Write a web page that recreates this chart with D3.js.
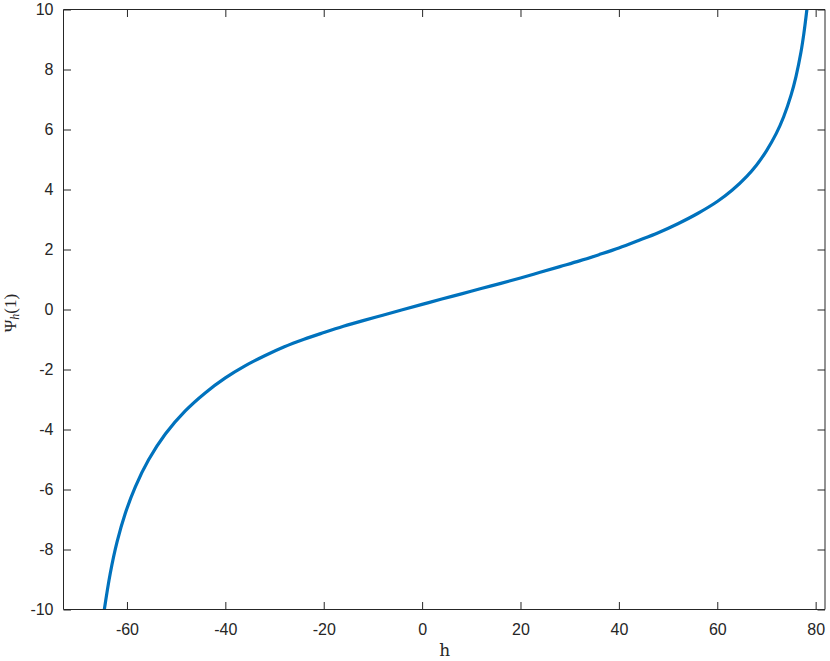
<!DOCTYPE html>
<html>
<head>
<meta charset="utf-8">
<script src="https://cdn.jsdelivr.net/npm/d3@7"></script>
<style>
  html, body { margin: 0; padding: 0; background: #fff; }
  svg { display: block; }
</style>
</head>
<body>
<svg id="chart" width="830" height="661"></svg>
<script>
// Data
const hValues = [-64.6, -63.4, -62.0, -60.35, -58.3, -55.6, -52.2, -48.15, -44.1, -40, -36, -32, -28, -24, -20, -16, -12, -8, -4, 0, 4, 8, 12, 16, 20, 24, 28, 32, 36, 40, 44, 48, 52, 56, 60, 63, 66, 68, 70, 72, 73.5, 75, 76, 77, 77.6, 78.22];
const psiValues = [-10.0, -8.80, -7.74, -6.80, -5.91, -5.01, -4.15, -3.38, -2.78, -2.28, -1.88, -1.54, -1.24, -0.99, -0.77, -0.56, -0.37, -0.19, -0.01, 0.17, 0.35, 0.52, 0.70, 0.87, 1.05, 1.24, 1.43, 1.62, 1.83, 2.05, 2.30, 2.56, 2.86, 3.20, 3.60, 3.975, 4.44, 4.82, 5.29, 5.87, 6.425, 7.145, 7.765, 8.565, 9.195, 10.0];
const xTicks = [-60, -40, -20, 0, 20, 40, 60, 80];
const yTicks = [-10, -8, -6, -4, -2, 0, 2, 4, 6, 8, 10];
const xDomain = [-72.9, 81.9];
const yDomain = [-10, 10];

const svg = d3.select("#chart");
const L = 63.5, R = 825, T = 9.5, B = 609.5;

const x = d3.scaleLinear().domain(xDomain).range([L, R]);
const y = d3.scaleLinear().domain(yDomain).range([B, T]);

const axisColor = "#262626";
const tickLen = 7.5;
const fontFam = "'Liberation Sans', Arial, Helvetica, sans-serif";
const fmt = d => String(d);

svg.append("clipPath").attr("id", "clip")
  .append("rect").attr("x", L).attr("y", T).attr("width", R - L).attr("height", B - T);

const data = hValues.map((h, i) => ({h, v: psiValues[i]}));
const line = d3.line().x(d => x(d.h)).y(d => y(d.v)).curve(d3.curveCatmullRom.alpha(0.5));

svg.append("path")
  .datum(data)
  .attr("clip-path", "url(#clip)")
  .attr("d", line)
  .attr("fill", "none")
  .attr("stroke", "#0072BD")
  .attr("stroke-width", 3.2)
  .attr("stroke-linejoin", "round");

// Axes with inward ticks (box on)
const gB = svg.append("g").attr("transform", `translate(0,${B})`)
  .call(d3.axisBottom(x).tickValues(xTicks).tickSize(-tickLen).tickPadding(14).tickFormat(fmt));
const gT = svg.append("g").attr("transform", `translate(0,${T})`)
  .call(d3.axisTop(x).tickValues(xTicks).tickSize(-tickLen).tickFormat(""));
const gL = svg.append("g").attr("transform", `translate(${L},0)`)
  .call(d3.axisLeft(y).tickValues(yTicks).tickSize(-tickLen).tickPadding(10).tickFormat(fmt));
const gR = svg.append("g").attr("transform", `translate(${R},0)`)
  .call(d3.axisRight(y).tickValues(yTicks).tickSize(-tickLen).tickFormat(""));

[gB, gT, gL, gR].forEach(g => {
  g.select(".domain").attr("stroke", axisColor).attr("stroke-width", 1);
  g.selectAll(".tick line").attr("stroke", axisColor).attr("stroke-width", 1);
  g.selectAll(".tick text").attr("fill", axisColor).style("font-family", fontFam).style("font-size", "16px");
});
gB.select(".domain").attr("d", `M${L},0H${R}`);
gT.select(".domain").attr("d", `M${L},0H${R}`);
gL.select(".domain").attr("d", `M0,${T}V${B}`);
gR.select(".domain").attr("d", `M0,${T}V${B}`);
gB.selectAll(".tick text").attr("dy", "0.71em");

// X label
svg.append("text")
  .attr("x", (L + R) / 2 + 0.5)
  .attr("y", 656)
  .attr("text-anchor", "middle")
  .attr("fill", axisColor)
  .style("font-family", "'DejaVu Serif', 'Liberation Serif', serif")
  .style("font-size", "17px")
  .text("h");

// Y label
const yl = svg.append("text")
  .attr("transform", `translate(16,313) rotate(-90)`)
  .attr("text-anchor", "middle")
  .attr("fill", axisColor)
  .style("font-family", "'Liberation Serif', 'DejaVu Serif', serif")
  .style("font-size", "17px");
yl.append("tspan").text("Ψ");
yl.append("tspan").attr("font-style", "italic").attr("font-size", "12px").attr("dy", "3").text("h");
yl.append("tspan").attr("dy", "-3").text("(1)");
</script>
</body>
</html>
